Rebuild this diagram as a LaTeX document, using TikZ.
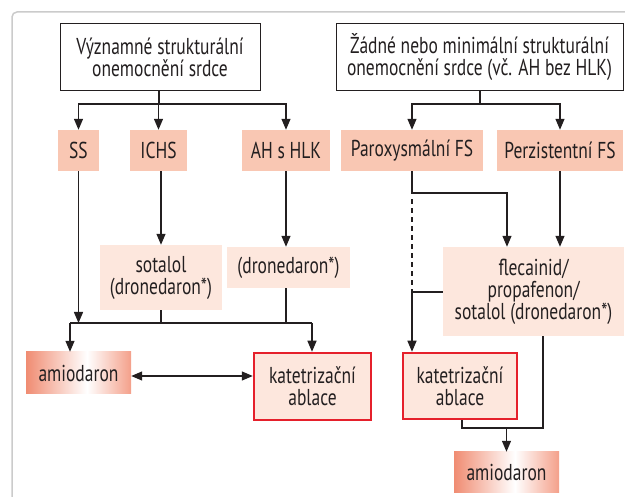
\documentclass[tikz,border=0pt]{standalone}
\usepackage{fontspec}
\setmainfont[FakeStretch=0.76]{PT Sans}
\usetikzlibrary{arrows.meta}
\definecolor{salmon}{HTML}{F9C7B3}
\definecolor{lightpink}{HTML}{FDE7DD}
\definecolor{redb}{HTML}{E5202B}
\definecolor{amioL}{HTML}{F08C72}
\definecolor{amioR}{HTML}{F4A08A}
\definecolor{ink}{HTML}{231F20}
\definecolor{framegray}{HTML}{CBCBCB}
\pgfdeclarehorizontalshading{amioshade}{100bp}{color(0bp)=(amioL); color(25bp)=(amioL); color(54bp)=(white); color(75bp)=(amioR); color(100bp)=(amioR)}
\begin{document}
\begin{tikzpicture}[x=1pt,y=-1pt,
  every node/.style={font=\fontsize{23}{22}\selectfont, text=ink, inner sep=0pt, align=center},
  topbox/.style={draw=ink, line width=1pt, fill=white},
  darkbox/.style={fill=salmon},
  lightbox/.style={fill=lightpink},
  redbox/.style={fill=lightpink, draw=redb, line width=2.5pt},
  amiobox/.style={shading=amioshade},
  conn/.style={draw=ink, line width=1.3pt},
  arr/.style={conn, -{Triangle[length=11pt,width=9pt]}},
  darr/.style={conn, {Triangle[length=11pt,width=9pt]}-{Triangle[length=11pt,width=9pt]}}
]
\useasboundingbox (0,0) rectangle (625,497);
\draw[framegray, line width=1.5pt, rounded corners=5pt] (12,500) -- (12,12) -- (630,12);

% top boxes
\node[topbox, minimum width=200pt, minimum height=67pt] (top1) at (160,57.5) {Významné strukturální\\onemocnění srdce};
\node[topbox, minimum width=287pt, minimum height=67pt] (top2) at (479.5,57.5) {Žádné nebo minimální strukturální\\onemocnění srdce (vč. AH bez HLK)};

% second row
\node[darkbox, minimum width=41pt, minimum height=41pt] (ss) at (78.5,150.5) {SS};
\node[darkbox, minimum width=57pt, minimum height=41pt] (ichs) at (158.5,150.5) {ICHS};
\node[darkbox, minimum width=88pt, minimum height=41pt] (ahs) at (286,150.5) {AH s HLK};
\node[darkbox, minimum width=142pt, minimum height=41pt] (parox) at (412,150.5) {Paroxysmální FS};
\node[darkbox, minimum width=126pt, minimum height=41pt] (perz) at (560,150.5) {Perzistentní FS};

% third row
\node[lightbox, minimum width=122pt, minimum height=65pt] (sotalol) at (161,277.5) {sotalol\\(dronedaron*)};
\node[lightbox, minimum width=123pt, minimum height=41pt] (dron) at (288.5,267.5) {(dronedaron*)};
\node[lightbox, minimum width=181pt, minimum height=89pt] (flec) at (533.5,291.5) {flecainid/\\propafenon/\\sotalol (dronedaron*)};

% fourth row
\node[amiobox, minimum width=105pt, minimum height=42pt] (amioLn) at (78.5,373) {amiodaron};
\node[redbox, minimum width=117pt, minimum height=67pt] (katL) at (312.5,386.5) {katetrizační\\ablace};
\node[redbox, minimum width=114pt, minimum height=66pt] (katR) at (460,386) {katetrizační\\ablace};
\node[amiobox, minimum width=105pt, minimum height=41pt] (amioRn) at (506.5,472.5) {amiodaron};

% coordinates
\coordinate (j1) at (159,104);
\coordinate (j2) at (480,104);
\coordinate (hl) at (70,323);
\coordinate (hr) at (312,323);
\coordinate (pj) at (507,193);
\coordinate (fj) at (412,292);
\coordinate (b1) at (543,428);
\coordinate (b2) at (462,428);
\coordinate (bm) at (506.5,428);

% left tree
\draw[conn] (top1.south -| j1) -- (j1);
\draw[arr] (j1) -| (ss.north);
\draw[arr] (j1) -| (ichs.north);
\draw[arr] (j1) -| (ahs.north);
\draw[arr] (ichs.south -| sotalol.north) -- (sotalol.north);
\draw[arr] (ahs.south) -- (ahs.south |- dron.north);
\draw[arr] (ss.south) -- (ss.south |- hl);
\draw[conn] (hl) -- (hr);
\draw[conn] (sotalol.south) -- (sotalol.south |- hl);
\draw[conn] (ahs.south |- dron.south) -- (ahs.south |- hl);
\draw[arr] (hl) -- (hl |- amioLn.north);
\draw[arr] (hr) -- (hr |- katL.north);
\draw[darr] (amioLn.east |- 0,376) -- (katL.west |- 0,376);

% right tree
\draw[conn] (top2.south -| j2) -- (j2);
\draw[arr] (j2) -| (parox.north);
\draw[arr] (j2) -| (perz.north);
\draw[arr] (parox.south) |- (pj) -- (pj |- flec.north);
\draw[conn, dash pattern=on 5pt off 4pt] ([yshift=-28pt]parox.south) -- (fj);
\draw[arr] (flec.west |- fj) -- (fj) -- (fj |- katR.north);
\draw[arr] (perz.south) -- (perz.south |- flec.north);
\draw[conn] (b1 |- flec.south) -- (b1) -- (b2) -- (b2 |- katR.south);
\draw[arr] (bm) -- (amioRn.north);
\end{tikzpicture}
\end{document}
